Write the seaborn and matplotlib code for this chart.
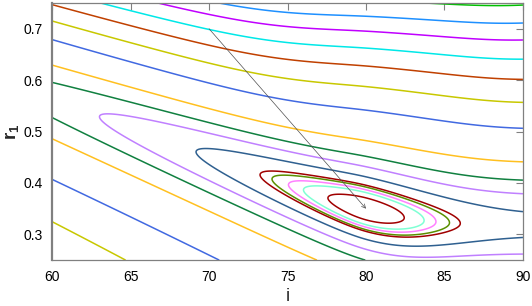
import numpy as np
import matplotlib.pyplot as plt
import seaborn as sns

# fit surface over (i, r1), shape
i_best, r_best = 80.0, 0.349          # minimum of the surface
valley_knee = [82.0, 4.0]             # where the valley bottom flattens, width
valley_floor, valley_slope = 0.312, 0.0113
rise_left = [0.95, 1.7]               # slope and rounding of the rise towards low i
rise_right = [7.9, 6.0]               # plateau height and scale towards high i
stiff_upper = [2500.0, 0.0245]        # curvature above the valley and its drift with i
stiff_lower = [3000.0, 0.012, 11.0]   # curvature below, drift, softening
upper_lift = [0.034, 82.0, 7.0, 0.17] # lift of the far upper contours (size, centre, width, onset)

# contour levels and their line colours (innermost first)
levels = [1.2, 2.5, 3.35, 4.3, 5.0, 8.8, 14.6, 21.9, 35.6, 72.6, 112.3,
          156.0, 201.0, 249.5, 297.0, 352.0]
colors = ['#a00000', '#7fffd4', '#ff80ff', '#5a9000', '#a00000', '#2f6090',
          '#c080ff', '#108040', '#ffc020', '#4169e1', '#c8c800', '#c04000',
          '#00e8e8', '#c000ff', '#1e90ff', '#00c000']

arrow_start = (70.0, 0.70)
arrow_end = (80.0, 0.35)

xticks = [60, 65, 70, 75, 80, 85, 90]
yticks = [0.3, 0.4, 0.5, 0.6, 0.7]

sns.set_theme(style='white')
plt.rcParams['font.family'] = ['Liberation Sans', 'DejaVu Sans']
plt.rcParams['mathtext.fontset'] = 'custom'
plt.rcParams['mathtext.rm'] = 'Liberation Sans'
plt.rcParams['mathtext.bf'] = 'Liberation Sans:bold'

# evaluate the surface on a grid
i_grid = np.linspace(60, 90, 600)
r_grid = np.linspace(0.25, 0.75, 600)
I, R = np.meshgrid(i_grid, r_grid)
d = I - i_best
dk = I - valley_knee[0]
centre = valley_floor + valley_slope * (np.sqrt(dk**2 + valley_knee[1]**2) - dk) / 2
v = R - centre
lift = upper_lift[0] * np.exp(-((I - upper_lift[1]) / upper_lift[2])**2)
v_up = v - lift * (1 - np.exp(-(np.clip(v, 0, None) / upper_lift[3])**2))
h = np.where(d < 0,
             rise_left[0] * (np.sqrt(d**2 + rise_left[1]**2) - rise_left[1]),
             rise_right[0] * (1 - np.exp(-(d / rise_right[1])**2)))
k_up = stiff_upper[0] * np.exp(-stiff_upper[1] * d)
k_lo = stiff_lower[0] * np.exp(-stiff_lower[1] * d)
g = np.where(v >= 0, k_up * v_up**2,
             k_lo * v**2 / (1 + stiff_lower[2] * np.abs(v)**1.5))
Z = h + g

fig = plt.figure(figsize=(5.32, 3.06), dpi=100)
ax = fig.add_axes([0.098, 0.150, 0.885, 0.840])

ax.contour(I, R, Z, levels=levels, colors=colors, linewidths=1.1)

ax.annotate('', xy=arrow_end, xytext=arrow_start,
            arrowprops=dict(arrowstyle='->', lw=0.5, color='#505050',
                            shrinkA=0, shrinkB=0, mutation_scale=7))

ax.set_xlim(60, 90)
ax.set_ylim(0.25, 0.75)
ax.set_xticks(xticks)
ax.set_yticks(yticks)
ax.set_xticklabels([str(t) for t in xticks])
ax.set_yticklabels([f'{t:.1f}' for t in yticks])
ax.tick_params(direction='in', length=5, width=0.8, color='#808080',
               top=True, right=True, labelsize=10, labelcolor='black', pad=7)
for side, sp in ax.spines.items():
    sp.set_color('#808080')
    sp.set_linewidth(0.9)
ax.spines['left'].set_linewidth(1.6)

ax.set_xlabel('i', fontsize=13.5, labelpad=3)
ax.set_ylabel(r'$\mathbf{r}_\mathbf{1}$', fontsize=13.5)
ax.yaxis.set_label_coords(-0.063, 0.5)

fig.savefig('out.png', dpi=100)
